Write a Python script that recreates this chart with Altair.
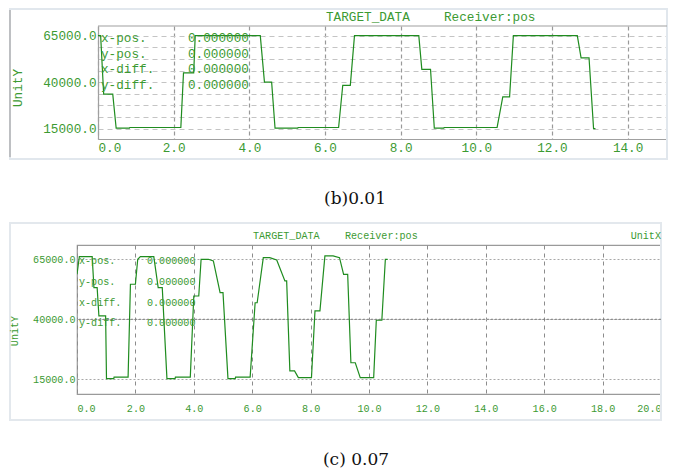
import altair as alt
import pandas as pd

# ---------------- data ----------------
# panel (b) 0.01 : time / position trace
b_time = [0.00, 0.07, 0.15, 0.39, 0.48, 0.83, 0.84, 2.19, 2.26, 2.53, 2.57, 4.29, 4.40, 4.59, 4.68,
          5.28, 5.29, 6.36, 6.47, 6.67, 6.78, 8.48, 8.56, 8.79, 8.89, 9.14, 9.15, 10.55, 10.70,
          10.88, 10.98, 12.67, 12.77, 12.98, 13.10, 13.15]
b_pos = [65000, 65000, 33500, 33500, 15200, 15200, 15600, 15600, 45000, 45000, 65000, 65000, 40000,
         40000, 15200, 15200, 15600, 15600, 38300, 38300, 65000, 65000, 46900, 46900, 15200, 15200,
         15600, 15600, 32100, 32100, 65000, 65000, 53100, 53100, 15000, 15000]

# panel (c) 0.07 : time / position trace
c_time = [0.00, 0.08, 0.52, 0.58, 0.69, 0.75, 0.98, 1.01, 1.26, 1.27, 1.75, 1.83, 2.00, 2.08, 2.17,
          2.63, 2.78, 2.92, 3.08, 3.36, 3.37, 3.88, 4.00, 4.17, 4.25, 4.50, 4.67, 4.90, 5.00, 5.17,
          5.42, 5.43, 5.93, 6.10, 6.17, 6.38, 6.60, 6.84, 7.12, 7.18, 7.29, 7.45, 7.58, 8.03, 8.15,
          8.32, 8.49, 8.77, 8.99, 9.13, 9.27, 9.38, 9.53, 9.70, 10.16, 10.25, 10.44, 10.56, 10.64]
c_pos = [58750, 66100, 66100, 53200, 53200, 41400, 41400, 15300, 15300, 15900, 15900, 54600, 54600,
         65000, 66100, 66100, 53200, 53200, 15300, 15300, 15900, 15900, 49700, 49700, 65000, 65000,
         64300, 51100, 51100, 15300, 15300, 15900, 15900, 46900, 46900, 65700, 65700, 64700, 56000,
         56000, 18500, 18500, 15700, 15700, 43500, 43500, 66400, 66400, 65700, 58750, 58750, 21900,
         21900, 15700, 15700, 39600, 39600, 65000, 65000]

y_grid_values = [15000, 21250, 27500, 33750, 40000, 46250, 52500, 58750, 65000]
y_label_values = [15000, 40000, 65000]
b_x_ticks = [0, 2, 4, 6, 8, 10, 12, 14]
c_x_ticks = [0, 2, 4, 6, 8, 10, 12, 14, 16, 18, 20]
readout_names = ["x-pos.", "y-pos.", "x-diff.", "y-diff."]
readout_values = ["0.000000", "0.000000", "0.000000", "0.000000"]
title_data = "TARGET_DATA"
title_recv = "Receiver:pos"
x_unit = "UnitX"
y_unit = "UnitY"
caption_b = "(b)0.01"
caption_c = "(c) 0.07"
mid_line = [40000]

# ---------------- styling ----------------
GREEN = "#3c9a32"
LINE = "#1f8c1f"
MONO = "Liberation Mono"
SERIF = "DejaVu Serif"

label_expr = " || ".join(f"datum.value == {v}" for v in y_label_values)
label_expr = f"({label_expr}) ? format(datum.value, '.1f') : ''"


def txt(s, x, y, **kw):
    return alt.Chart(pd.DataFrame({"s": [s]})).mark_text(**kw).encode(
        text="s:N", x=alt.value(x), y=alt.value(y))


def panel(times, values, xdom, xrange, ydom, xticks, fs, st):
    df = pd.DataFrame({"t": times, "v": values, "i": list(range(len(times)))})
    xaxis = alt.Axis(values=xticks, format=".1f", labelFlush=True, ticks=False,
                     grid=True, gridDash=st["vdash"], gridColor=st["vcolor"], gridWidth=st["vwidth"],
                     domain=st["domain"], domainColor="#a0a0a0", domainWidth=1.2,
                     labelFont=MONO, labelFontSize=fs, labelColor=GREEN,
                     labelPadding=st["xpad"], title=None)
    yaxis = alt.Axis(values=y_grid_values, labelExpr=label_expr, ticks=False,
                     grid=True, gridDash=st["hdash"], gridColor=st["hcolor"], gridWidth=1,
                     domain=st["domain"], domainColor="#a0a0a0", domainWidth=1.2,
                     labelFont=MONO, labelFontSize=fs, labelColor=GREEN,
                     labelPadding=st["ypad"], title=None, labelFlush=False,
                     offset=st["yoffset"])
    return alt.Chart(df).mark_line(color=LINE, strokeWidth=1.2, clip=True).encode(
        x=alt.X("t:Q", scale=alt.Scale(domain=xdom, range=xrange, nice=False, zero=False),
                axis=xaxis),
        y=alt.Y("v:Q", scale=alt.Scale(domain=ydom, nice=False, zero=False), axis=yaxis),
        order="i:Q",
    )


# ---------------- panel (b) ----------------
# both panels share the group origin; panel (b) plot starts 21 px further right
S = 21
Wb, Hb = 569, 113
b_style = dict(vdash=[4, 3], vcolor="#999999", vwidth=1.2, hdash=[5, 4], hcolor="#c4c4c4",
               domain=True, xpad=2, ypad=2, yoffset=-S)
b_line = panel(b_time, b_pos, [0, Wb / 37.83], [S, S + Wb], [9400, 70220], b_x_ticks, 12.7,
               b_style)

b_frame = alt.Chart(pd.DataFrame({"a": [0]})).mark_rect(
    filled=False, stroke="#e1e7ed", strokeWidth=2).encode(
    x=alt.value(S - 88), x2=alt.value(S + Wb), y=alt.value(-17), y2=alt.value(133))
b_left = alt.Chart(pd.DataFrame({"a": [0]})).mark_rule(color="#a6a6a6", strokeWidth=1.2).encode(
    x=alt.value(S - 88), y=alt.value(-16), y2=alt.value(131))
b_top = alt.Chart(pd.DataFrame({"a": [0]})).mark_rule(color="#a0a0a0", strokeWidth=1.2).encode(
    x=alt.value(S), x2=alt.value(S + Wb), y=alt.value(0))

b_texts = [
    txt(title_data, S + 228, -9, font=MONO, fontSize=12.7, color=GREEN, align="left",
        baseline="middle"),
    txt(title_recv, S + 346, -9, font=MONO, fontSize=12.7, color=GREEN, align="left",
        baseline="middle"),
    txt(y_unit, S - 80, 62, font=MONO, fontSize=12.7, color=GREEN, angle=270, align="center",
        baseline="middle"),
    txt(caption_b, S + 257, 173, font=SERIF, fontSize=17, color="#111111", align="center",
        baseline="middle"),
]
for k, (n, v) in enumerate(zip(readout_names, readout_values)):
    yy = 12 + k * 15.5
    b_texts.append(txt(n, S + 3, yy, font=MONO, fontSize=12.7, color=GREEN, align="left",
                       baseline="middle"))
    b_texts.append(txt(v, S + 90, yy, font=MONO, fontSize=12.7, color=GREEN, align="left",
                       baseline="middle"))

panel_b = alt.layer(b_frame, b_left, b_line, b_top, *b_texts).properties(
    width=S + Wb, height=Hb, view=alt.ViewBackground(stroke=None))

# ---------------- panel (c) ----------------
Wc, Hc = 584, 149
c_style = dict(vdash=[4, 4], vcolor="#8c8c8c", vwidth=1, hdash=[2, 2], hcolor="#a8a8a8",
               domain=False, xpad=9, ypad=2, yoffset=0)
c_line = panel(c_time, c_pos, [0, 20], [0, Wc], [8875, 70960], c_x_ticks, 10.1, c_style)

c_frame = alt.Chart(pd.DataFrame({"a": [0]})).mark_rect(
    filled=False, stroke="#e3e8ed", strokeWidth=2).encode(
    x=alt.value(-67), x2=alt.value(Wc), y=alt.value(-22), y2=alt.value(175))
c_mid = alt.Chart(pd.DataFrame({"v": mid_line})).mark_rule(
    color="#7a7a7a", strokeWidth=1, strokeDash=[2, 2]).encode(y="v:Q")

c_texts = [
    txt(title_data, 176, -9, font=MONO, fontSize=10.1, color=GREEN, align="left", baseline="middle"),
    txt(title_recv, 268, -9, font=MONO, fontSize=10.1, color=GREEN, align="left", baseline="middle"),
    txt(x_unit, Wc, -9, font=MONO, fontSize=10.1, color=GREEN, align="right", baseline="middle"),
    txt(y_unit, -62, 86, font=MONO, fontSize=10.1, color=GREEN, angle=270, align="center",
        baseline="middle"),
    txt(caption_c, 279, 215, font=SERIF, fontSize=17, color="#111111", align="center",
        baseline="middle"),
]
for k, (n, v) in enumerate(zip(readout_names, readout_values)):
    yy = 16 + k * 20.8
    c_texts.append(txt(n, 2, yy, font=MONO, fontSize=10.1, color=GREEN, align="left",
                       baseline="middle"))
    c_texts.append(txt(v, 70, yy, font=MONO, fontSize=10.1, color=GREEN, align="left",
                       baseline="middle"))

panel_c = alt.layer(c_frame, c_mid, c_line, *c_texts).properties(
    width=Wc, height=Hc, view=alt.ViewBackground(stroke="#9a9a9a", strokeWidth=1.2))

chart = alt.vconcat(panel_b, panel_c, spacing=14).properties(
    padding=0).configure(background="white")

chart.save("out.html", embed_options={"renderer": "svg", "actions": False})
